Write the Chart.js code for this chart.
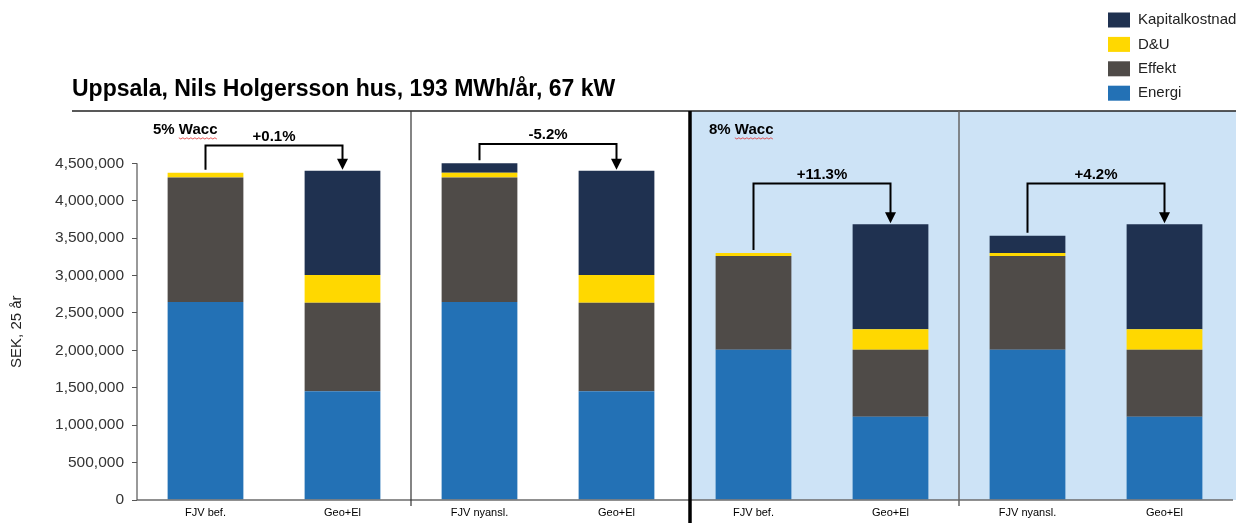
<!DOCTYPE html>
<html><head><meta charset="utf-8">
<script src="https://cdn.jsdelivr.net/npm/chart.js@4.4.1/dist/chart.umd.min.js"></script>
<style>html,body{margin:0;padding:0;background:#fff}#wrap{width:1252px;height:523px;position:relative}</style>
</head><body><div id="wrap"><canvas id="c"></canvas></div>
<script>
const categories = ['FJV bef.','Geo+El','FJV nyansl.','Geo+El','FJV bef.','Geo+El','FJV nyansl.','Geo+El'];
const energi  = [2646000,1455000,2646000,1455000,2010000,1112000,2010000,1112000];
const effekt  = [1666000,1183000,1666000,1183000,1253000, 897000,1253000, 897000];
const du      = [  62000, 370000,  62000, 370000,  40000, 272000,  40000, 272000];
const kapital = [      0,1393000, 126000,1393000,      0,1406000, 228000,1406000];
const yTicks = [0,500000,1000000,1500000,2000000,2500000,3000000,3500000,4000000,4500000];
const pctLabels = ['+0.1%','-5.2%','+11.3%','+4.2%'];
const bracketLevels = [4740000,4760000,4230000,4230000];
const waccLabels = ['5% Wacc','8% Wacc'];
const titleText = 'Uppsala, Nils Holgersson hus, 193 MWh/år, 67 kW';
const yTitle = 'SEK, 25 år';

const COL = {energi:'#2371B5', effekt:'#4F4B48', du:'#FFD800', kapital:'#1F3150', bg:'#CDE3F6'};
const FONT = 'Arial, "Liberation Sans", sans-serif';
const TITLE_LEFT = 72;
const yTickMax = yTicks[yTicks.length-1];

function total(i){ return energi[i]+effekt[i]+du[i]+kapital[i]; }
function boundary(x,i){ return (x.getPixelForValue(i)+x.getPixelForValue(i+1))/2; }

const decor = {
  id:'decor',
  beforeDraw(chart){
    const {ctx, chartArea:a, scales:{x}} = chart;
    ctx.save();
    ctx.fillStyle='#fff'; ctx.fillRect(0,0,chart.width,chart.height);
    const mid = boundary(x,3)+5;
    ctx.fillStyle=COL.bg; ctx.fillRect(mid, a.top, a.right+3-mid, a.bottom-a.top);
    ctx.restore();
  },
  afterDatasetsDraw(chart){
    const {ctx, chartArea:a, scales:{x,y}} = chart;
    ctx.save();
    const y0 = y.getPixelForValue(0), yT = y.getPixelForValue(yTickMax);
    // title
    ctx.font='bold 23px '+FONT; ctx.fillStyle='#000'; ctx.textAlign='left'; ctx.textBaseline='middle';
    ctx.fillText(titleText, TITLE_LEFT, a.top-21);
    // x axis line
    ctx.strokeStyle='#6b6b6b'; ctx.lineWidth=1.5;
    ctx.beginPath(); ctx.moveTo(a.left, y0); ctx.lineTo(a.right, y0); ctx.stroke();
    // y axis line
    ctx.strokeStyle='#555'; ctx.lineWidth=1.2;
    ctx.beginPath(); ctx.moveTo(a.left, yT); ctx.lineTo(a.left, y0); ctx.stroke();
    // top line
    ctx.strokeStyle='#222'; ctx.lineWidth=1.5;
    ctx.beginPath(); ctx.moveTo(TITLE_LEFT, a.top); ctx.lineTo(a.right+3, a.top); ctx.stroke();
    // separators
    const b1 = boundary(x,1), b2 = boundary(x,3)+5, b3 = boundary(x,5);
    ctx.strokeStyle='#333'; ctx.lineWidth=1.2;
    ctx.beginPath(); ctx.moveTo(b1, a.top); ctx.lineTo(b1, y0+6); ctx.stroke();
    ctx.strokeStyle='#666'; ctx.lineWidth=1.5;
    ctx.beginPath(); ctx.moveTo(b3, a.top); ctx.lineTo(b3, y0+6); ctx.stroke();
    ctx.strokeStyle='#000'; ctx.lineWidth=3.5;
    ctx.beginPath(); ctx.moveTo(b2, a.top); ctx.lineTo(b2, chart.height); ctx.stroke();
    // brackets
    ctx.strokeStyle='#000'; ctx.fillStyle='#000'; ctx.lineWidth=2; ctx.lineJoin='miter';
    ctx.font='bold 15px '+FONT; ctx.textAlign='center'; ctx.textBaseline='middle';
    for(let k=0;k<pctLabels.length;k++){
      const i=2*k, j=2*k+1;
      const xi=x.getPixelForValue(i), xj=x.getPixelForValue(j);
      const ti=y.getPixelForValue(total(i)), tj=y.getPixelForValue(total(j));
      const ly=y.getPixelForValue(bracketLevels[k]);
      ctx.beginPath(); ctx.moveTo(xi, ti-3); ctx.lineTo(xi, ly); ctx.lineTo(xj, ly); ctx.lineTo(xj, tj-11); ctx.stroke();
      ctx.beginPath(); ctx.moveTo(xj-5.5, tj-12); ctx.lineTo(xj+5.5, tj-12); ctx.lineTo(xj, tj-1); ctx.closePath(); ctx.fill();
      ctx.fillText(pctLabels[k], (xi+xj)/2, ly-9);
    }
    // Wacc labels
    const starts=[a.left+16, b2+19];
    ctx.textAlign='left';
    waccLabels.forEach((t,k)=>{
      const sx=starts[k], sy=a.top+19;
      ctx.fillStyle='#000'; ctx.fillText(t, sx, sy);
      const pre = ctx.measureText(t.split(' ')[0]+' ').width;
      const w = ctx.measureText(t.split(' ')[1]).width;
      ctx.strokeStyle='#e03030'; ctx.lineWidth=0.8;
      ctx.beginPath();
      for(let p=0;p<=w;p+=2){ const yy = sy+8+((p/2)%2?1:-0.2); if(p===0) ctx.moveTo(sx+pre+p,yy); else ctx.lineTo(sx+pre+p,yy); }
      ctx.stroke();
    });
    // y title
    ctx.save();
    ctx.translate(17, (y0+yT)/2); ctx.rotate(-Math.PI/2);
    ctx.font='15px '+FONT; ctx.fillStyle='#222'; ctx.textAlign='center'; ctx.textBaseline='middle';
    ctx.fillText(yTitle,0,0);
    ctx.restore();
    ctx.restore();
  },
  afterDraw(chart){
    const {ctx} = chart;
    ctx.save();
    const ds = chart.data.datasets.slice().reverse();
    ctx.font='15px '+FONT; ctx.textAlign='left'; ctx.textBaseline='middle';
    ds.forEach((d,k)=>{
      const cy = 20 + k*24.4;
      ctx.fillStyle=d.backgroundColor; ctx.fillRect(1108, cy-7.5, 22, 15);
      ctx.fillStyle='#222'; ctx.fillText(d.label, 1138, cy);
    });
    ctx.restore();
  }
};

new Chart(document.getElementById('c'), {
  type:'bar',
  data:{
    labels:categories,
    datasets:[
      {label:'Energi', data:energi, backgroundColor:COL.energi},
      {label:'Effekt', data:effekt, backgroundColor:COL.effekt},
      {label:'D&U', data:du, backgroundColor:COL.du},
      {label:'Kapitalkostnad', data:kapital, backgroundColor:COL.kapital}
    ]
  },
  options:{
    responsive:true, maintainAspectRatio:false, animation:false,
    devicePixelRatio:1,
    barPercentage:0.553, categoryPercentage:1.0,
    layout:{padding:{left:0,right:19,top:111,bottom:0}},
    plugins:{
      legend:{display:false},
      tooltip:{enabled:false},
      title:{display:false}
    },
    scales:{
      x:{stacked:true, grid:{display:false, drawTicks:false}, border:{display:false},
        afterFit(s){ s.height = 23; },
        ticks:{color:'#000', font:{family:FONT,size:11}, padding:6, maxRotation:0, autoSkip:false}},
      y:{stacked:true, min:0, max:5200000,
        grid:{drawOnChartArea:false, drawTicks:true, tickLength:5, color:'#555'},
        border:{display:false},
        afterBuildTicks(s){ s.ticks = yTicks.map(v=>({value:v})); },
        afterFit(s){ s.width = 137; },
        ticks:{color:'#333', padding:8, font:{family:FONT,size:15.5},
          callback:v=>v.toLocaleString('en-US')}}
    }
  },
  plugins:[decor]
});
</script></body></html>
